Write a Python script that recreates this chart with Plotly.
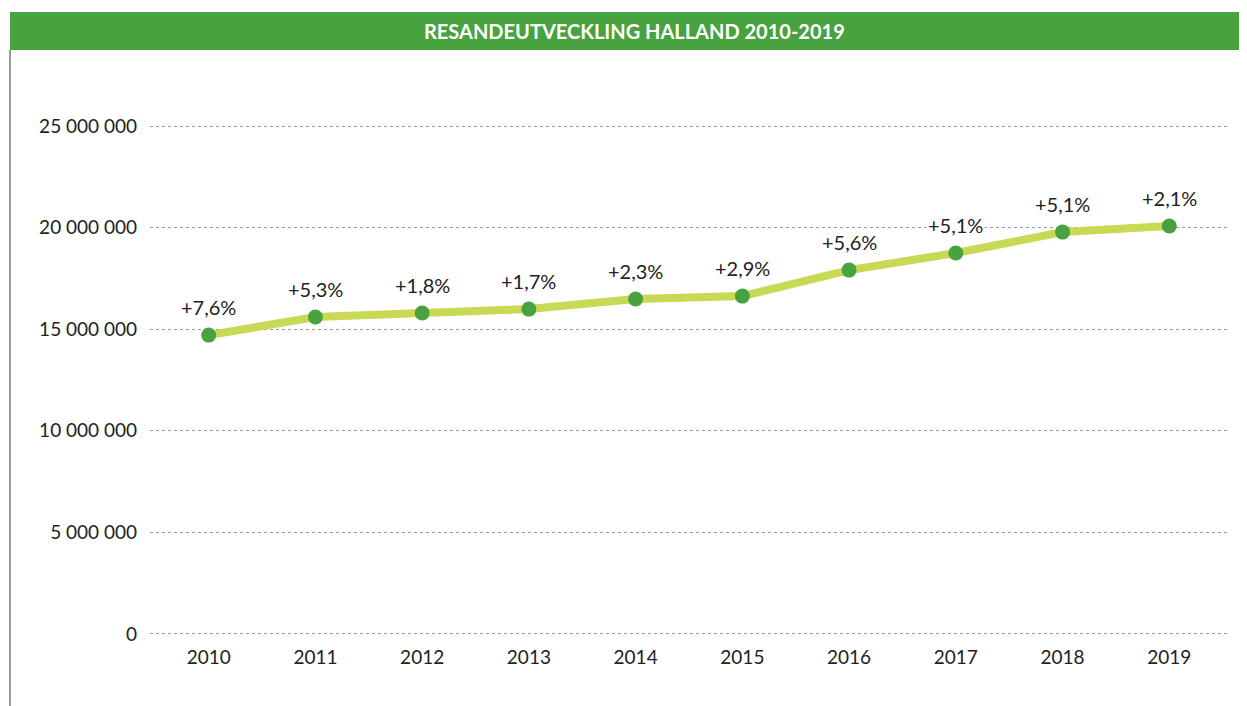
import plotly.graph_objects as go

years = ["2010", "2011", "2012", "2013", "2014", "2015", "2016", "2017", "2018", "2019"]
travellers = [14710000, 15600000, 15800000, 15990000, 16490000, 16630000, 17910000, 18750000, 19780000, 20080000]
growth_labels = ["+7,6%", "+5,3%", "+1,8%", "+1,7%", "+2,3%", "+2,9%", "+5,6%", "+5,1%", "+5,1%", "+2,1%"]
y_ticks = [0, 5000000, 10000000, 15000000, 20000000, 25000000]
y_tick_labels = ["0", "5 000 000", "10 000 000", "15 000 000", "20 000 000", "25 000 000"]
title = "RESANDEUTVECKLING HALLAND 2010-2019"

FONT = "Lato, 'Open Sans', sans-serif"
GREEN = "#48A23F"
LIME = "#C9D855"

# figure-coordinate layout (page body adds 8px offset)
L, T, W, H = 142, 116, 1078, 512


def px(xf):
    return (xf - L) / W


def py(yf):
    return (T + H - yf) / H


fig = go.Figure()
fig.add_trace(go.Scatter(
    x=years, y=travellers, mode="lines+markers",
    line=dict(color=LIME, width=8),
    marker=dict(color=GREEN, size=15),
    hoverinfo="skip", showlegend=False,
))

for i, (v, lab) in enumerate(zip(travellers, growth_labels)):
    fig.add_annotation(x=i, y=v, xref="x", yref="y", text=lab, showarrow=False, yshift=28,
                       font=dict(family=FONT, size=20, color="#222222"),
                       bgcolor="white", borderpad=1)

# title bar
fig.add_shape(type="rect", xref="paper", yref="paper",
              x0=px(2), x1=px(1260), y0=py(42), y1=py(4),
              fillcolor=GREEN, line=dict(width=0), layer="above")
fig.add_annotation(xref="paper", yref="paper", x=px(626), y=py(23),
                   text="<b>" + title + "</b>", showarrow=False,
                   font=dict(family=FONT, size=20, color="white"),
                   xanchor="center", yanchor="middle")
# left border line
fig.add_shape(type="line", xref="paper", yref="paper",
              x0=px(2), x1=px(2), y0=py(720), y1=py(42),
              line=dict(color="#555555", width=1.2))

fig.update_layout(
    width=1247, height=706,
    margin=dict(l=L, r=1247 - L - W, t=T, b=706 - T - H),
    paper_bgcolor="white", plot_bgcolor="white",
    font=dict(family=FONT, size=19, color="#222222"),
    xaxis=dict(type="category", range=[-0.55, 9.55], showgrid=False, zeroline=False,
               showline=False, ticks="", tickfont=dict(size=19), ticklabelstandoff=8),
    yaxis=dict(range=[-100000, 25100000], tickvals=y_ticks, ticktext=y_tick_labels,
               showgrid=True, gridcolor="#999999", gridwidth=1, griddash="dot",
               zeroline=False, showline=False, ticks="", tickfont=dict(size=19),
               ticklabelstandoff=12),
)

fig.write_html("out.html")
